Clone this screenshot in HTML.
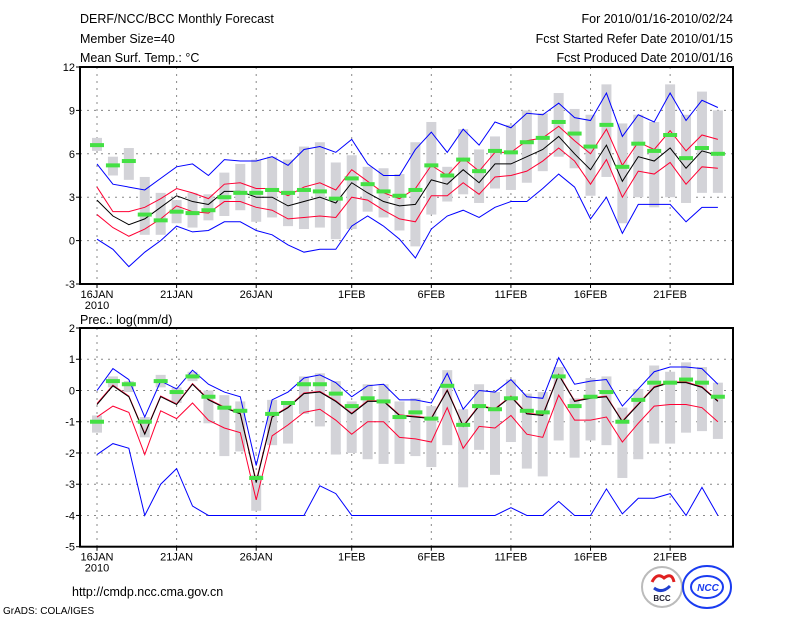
<!DOCTYPE html>
<html><head><meta charset="utf-8"><style>
body{margin:0;background:#fff;}
svg{display:block;font-family:"Liberation Sans",sans-serif;}
</style></head><body>
<svg id="c" width="800" height="618" xmlns="http://www.w3.org/2000/svg">
<g font-size="12.5" fill="#000">
<text x="80" y="23">DERF/NCC/BCC Monthly Forecast</text>
<text x="80" y="43">Member Size=40</text>
<text x="80" y="62">Mean Surf. Temp.: °C</text>
<text x="733" y="23" text-anchor="end">For 2010/01/16-2010/02/24</text>
<text x="733" y="43" text-anchor="end">Fcst Started Refer Date 2010/01/15</text>
<text x="733" y="62" text-anchor="end">Fcst Produced Date 2010/01/16</text>
<text x="80" y="324">Prec.: log(mm/d)</text>
<text x="72" y="596">http://cmdp.ncc.cma.gov.cn</text>
<text x="3" y="614" font-size="10">GrADS: COLA/IGES</text>
</g>
<g>
<circle cx="662" cy="587" r="20" fill="#fff" stroke="#bbb" stroke-width="2"/>
<path d="M652 582 q5 -10 12 -4 q8 -6 10 4" fill="none" stroke="#e02020" stroke-width="3"/>
<path d="M654 588 q8 6 16 -2" fill="none" stroke="#2040d0" stroke-width="3"/>
<text x="662" y="601" font-size="8" font-weight="bold" text-anchor="middle" fill="#223">BCC</text>
<ellipse cx="707" cy="587" rx="24" ry="21" fill="#fff" stroke="#1a3cf0" stroke-width="2"/>
<ellipse cx="707" cy="587" rx="16" ry="11" fill="none" stroke="#1a3cf0" stroke-width="2"/>
<text x="708" y="591" font-size="10" font-weight="bold" font-style="italic" text-anchor="middle" fill="#1a3cf0">NCC</text>
</g>
</svg>
<script>
const days = ["16JAN","21JAN","26JAN","1FEB","6FEB","11FEB","16FEB","21FEB"];
const dayIdx = [0,5,10,16,21,26,31,36];
// Temperature panel
const tBlueHi = [5.3,3.9,3.7,3.5,4.3,5.1,5.3,4.5,5.6,5.5,5.5,5.8,5.2,6.3,6.5,6.1,7.0,5.3,4.5,4.5,6.3,7.5,6.1,7.7,6.6,8.2,7.8,8.8,8.7,9.5,8.5,8.3,10.2,7.2,8.7,8.2,10.2,8.3,9.7,9.2];
const tRedHi = [3.7,2.0,2.0,2.3,2.9,3.6,3.3,2.9,3.9,4.0,3.6,3.6,3.1,3.7,4.0,3.5,4.9,4.1,3.3,2.9,3.6,5.2,4.5,5.7,4.8,6.1,6.1,6.9,7.1,7.9,6.9,6.0,7.7,5.2,6.8,6.3,7.6,6.2,7.3,7.0];
const tMean = [2.8,1.7,1.1,1.5,2.3,3.1,2.7,2.5,3.4,3.4,3.0,3.0,2.4,2.7,3.0,2.6,4.0,3.3,2.7,2.4,2.5,4.2,3.9,4.9,4.0,5.3,5.3,5.8,6.3,7.2,6.0,4.9,6.6,4.1,5.8,5.5,6.4,5.0,6.2,5.9];
const tRedLo = [1.8,0.9,0.3,0.8,1.5,2.4,2.0,1.9,2.7,2.7,2.3,2.1,1.5,1.6,1.7,1.6,3.0,2.8,2.1,1.5,1.3,3.1,3.1,4.0,3.2,4.4,4.5,4.8,5.5,6.4,5.5,3.9,5.6,3.0,4.8,4.6,5.4,3.9,5.1,5.0];
const tBlueLo = [0.1,-0.6,-1.8,-0.8,0,1.0,0.6,0.7,1.3,1.3,0.7,0.4,-0.3,-0.8,-0.6,-0.6,1.0,1.7,1.0,0.1,-1.2,0.8,1.7,2.1,1.6,2.3,2.7,2.7,3.6,4.6,3.7,1.5,3.0,0.5,2.5,2.5,2.5,1.3,2.3,2.3];
const tObs = [6.6,5.2,5.5,1.8,1.4,2.0,1.9,2.1,3.0,3.3,3.3,3.5,3.3,3.5,3.4,2.9,4.3,3.9,3.4,3.1,3.5,5.2,4.5,5.6,4.8,6.2,6.1,6.8,7.1,8.2,7.4,6.5,8.0,5.1,6.7,6.2,7.3,5.7,6.4,6.0];
const tBarHi = [7.1,5.8,6.4,4.4,3.3,2.8,3.3,3.2,4.7,5.3,5.6,5.8,5.6,6.5,6.8,5.4,5.9,5.1,5.0,4.6,6.8,8.2,5.1,7.7,6.3,7.2,8.0,9.0,8.8,10.2,9.1,8.7,10.8,8.1,8.7,8.2,10.8,8.7,10.3,9.0];
const tBarLo = [6.2,4.5,4.2,0.4,0.4,1.2,0.9,1.4,1.7,2.1,1.3,1.6,1.0,0.8,0.9,0.1,0.8,2.0,1.6,0.7,-0.4,1.8,2.7,3.2,2.6,3.6,3.5,4.0,4.8,5.8,5.0,3.1,4.4,1.2,3.0,2.3,3.0,2.6,3.3,3.3];
const tTicks = [-3,0,3,6,9,12];
// Precipitation panel
const pBlueHi = [0,0.7,0.35,-0.85,0.3,0.05,0.65,0.2,-0.05,-0.2,-2.4,-0.3,-0.05,0.4,0.5,0.25,-0.2,0.15,0.2,-0.3,-0.3,-0.4,0.55,-0.6,0,-0.05,0.35,-0.2,-0.25,1.05,0.2,0.3,0.35,-0.5,0.05,0.6,0.75,0.75,0.7,0.2];
const pRedHi = [-0.42,0.17,-0.18,-1.38,-0.18,-0.43,0.22,-0.28,-0.53,-0.73,-2.9,-0.83,-0.53,-0.08,-0.03,-0.33,-0.73,-0.33,-0.33,-0.78,-0.83,-0.88,0.02,-1.13,-0.48,-0.58,-0.18,-0.73,-0.78,0.52,-0.33,-0.23,-0.18,-0.98,-0.43,0.12,0.27,0.27,0.12,-0.33];
const pMean = [-0.45,0.15,-0.2,-1.4,-0.2,-0.45,0.2,-0.3,-0.55,-0.75,-2.95,-0.85,-0.55,-0.1,-0.05,-0.35,-0.75,-0.35,-0.35,-0.8,-0.85,-0.9,0,-1.15,-0.5,-0.6,-0.2,-0.75,-0.8,0.5,-0.35,-0.25,-0.2,-1.0,-0.45,0.1,0.25,0.25,0.1,-0.35];
const pRedLo = [-0.85,-0.5,-0.7,-2.05,-0.65,-0.9,-0.4,-0.95,-1.2,-1.35,-3.5,-1.45,-1.1,-0.7,-0.6,-0.95,-1.4,-1.0,-1.0,-1.5,-1.55,-1.65,-0.55,-1.85,-1.15,-1.2,-0.8,-1.4,-1.5,-0.15,-0.95,-0.95,-0.85,-1.65,-1.05,-0.5,-0.45,-0.45,-0.55,-1.0];
const pBlueLo = [-2.05,-1.7,-1.85,-4,-3.0,-2.5,-3.7,-4,-4,-4,-4,-4,-4,-4,-3.05,-3.3,-4,-4,-4,-4,-4,-4,-4,-4,-4,-4,-3.75,-4,-4,-3.55,-4,-4,-3.15,-3.95,-3.45,-3.45,-3.3,-4,-3.1,-4];
const pObs = [-1.0,0.3,0.2,-1.0,0.3,-0.05,0.45,-0.2,-0.55,-0.65,-2.8,-0.75,-0.4,0.2,0.2,-0.1,-0.5,-0.25,-0.35,-0.85,-0.7,-0.9,0.15,-1.1,-0.5,-0.6,-0.25,-0.65,-0.7,0.45,-0.5,-0.2,-0.05,-1.0,-0.3,0.25,0.25,0.35,0.25,-0.2];
const pBarHi = [-0.8,0.45,0.3,-0.85,0.5,0.1,0.6,0,-0.15,-0.35,-2.7,-0.3,-0.35,0.45,0.55,0.3,-0.35,0.2,0.2,-0.35,-0.25,-0.5,0.65,-0.6,0.2,-0.05,0.35,-0.1,-0.05,0.75,-0.25,0.4,0.45,-0.55,0.05,0.8,0.6,0.9,0.75,0.25];
const pBarLo = [-1.35,0.1,-0.05,-1.5,0.1,-0.4,0.3,-1.05,-2.1,-1.95,-3.85,-1.75,-1.7,-0.75,-1.15,-2.05,-2.0,-2.2,-2.35,-2.35,-2.1,-2.45,-1.75,-3.1,-1.9,-2.7,-1.65,-2.5,-2.75,-1.6,-2.15,-1.6,-1.75,-2.8,-2.2,-1.7,-1.7,-1.35,-1.3,-1.55];
const pTicks = [-5,-4,-3,-2,-1,0,1,2];

const NS = "http://www.w3.org/2000/svg";
const svg = document.getElementById('c');
function mk(tag, attrs, parent){const e=document.createElementNS(NS,tag);for(const k in attrs)e.setAttribute(k,attrs[k]);(parent||svg).appendChild(e);return e;}
const X0=80, X1=733, D0=97, DX=15.92;
const xs = i => D0 + i*DX;

function panel(name, top, bot, vmin, vmax, ticks, series, bHi, bLo, obs){
  const ys = v => bot - (v-vmin)/(vmax-vmin)*(bot-top);
  const g = mk('g',{});
  
  
  ticks.forEach(t=>{ if(t>vmin&&t<vmax){const l=mk('line',{x1:X0,x2:X1,y1:ys(t),y2:ys(t),stroke:'#888','stroke-dasharray':'2,5','stroke-width':1},g);
    
    }});
  dayIdx.forEach(d=>{const l=mk('line',{x1:xs(d),x2:xs(d),y1:top,y2:bot,stroke:'#888','stroke-dasharray':'2,5','stroke-width':1},g);
    
    });
  bHi.forEach((h,i)=>{const r=mk('rect',{x:xs(i)-5,y:ys(h),width:10,height:Math.max(1,ys(bLo[i])-ys(h)),fill:'#d3d3d8'},g);
    
    });
  series.forEach(s=>{const p=mk('polyline',{points:s.d.map((v,i)=>xs(i)+','+ys(v)).join(' '),fill:'none',stroke:s.c,'stroke-width':1},g);
    
    });
  obs.forEach((v,i)=>{const r=mk('rect',{x:xs(i)-7,y:ys(v)-2,width:14,height:4,fill:'#44e044'},g);
    
    });
  const f=mk('rect',{x:X0,y:top,width:X1-X0,height:bot-top,fill:'none',stroke:'#000','stroke-width':2},g);
  
  
  ticks.forEach(t=>{const tx=mk('text',{x:X0-5,y:ys(t)+4,'text-anchor':'end','font-size':11},g);tx.textContent=t;
    
    
    mk('line',{x1:X0-4,x2:X0,y1:ys(t),y2:ys(t),stroke:'#000'},g);});
  days.forEach((d,k)=>{const tx=mk('text',{x:xs(dayIdx[k]),y:bot+14,'text-anchor':'middle','font-size':11},g);tx.textContent=d;
    
    
    mk('line',{x1:xs(dayIdx[k]),x2:xs(dayIdx[k]),y1:bot,y2:bot+4,stroke:'#000'},g);});
  const yr=mk('text',{x:xs(0),y:bot+25,'text-anchor':'middle','font-size':11},g);yr.textContent='2010';
  
  
}
panel('temperature-panel',67,284,-3,12,tTicks,[
  {n:'temp-blue-upper',c:'#0000ff',d:tBlueHi},{n:'temp-blue-lower',c:'#0000ff',d:tBlueLo},
  {n:'temp-red-upper',c:'#ff0033',d:tRedHi},{n:'temp-red-lower',c:'#ff0033',d:tRedLo},
  {n:'temp-mean',c:'#000',d:tMean}],tBarHi,tBarLo,tObs);
panel('precip-panel',328,546.7,-5,2,pTicks,[
  {n:'prec-blue-upper',c:'#0000ff',d:pBlueHi},{n:'prec-blue-lower',c:'#0000ff',d:pBlueLo},
  {n:'prec-red-lower',c:'#ff0033',d:pRedLo},{n:'prec-red-upper',c:'#ff0033',d:pRedHi},
  {n:'prec-mean',c:'#000',d:pMean}],pBarHi,pBarLo,pObs);
</script>
</body></html>
